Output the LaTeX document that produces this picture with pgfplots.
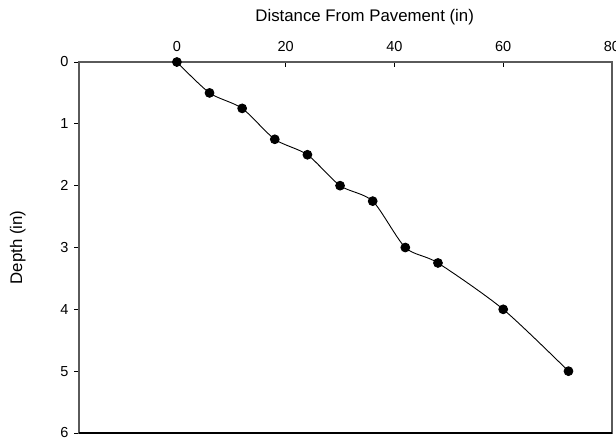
\documentclass[border=0pt]{standalone}
\usepackage{fontspec}
\setmainfont{Liberation Sans}
\usepackage{pgfplots}
\pgfplotsset{compat=1.18}
\definecolor{frame}{HTML}{5A5A5A}

\begin{document}
\begin{tikzpicture}[x=1pt,y=1pt]
\useasboundingbox (0,0) rectangle (616,442);
\begin{axis}[
  at={(79pt,9pt)}, anchor=south west,
  scale only axis, width=533pt, height=371pt,
  xmin=-18, xmax=80, ymin=0, ymax=6,
  y dir=reverse,
  axis line style={draw=frame, line width=1.3pt},
  xtick={0,20,40,60,80}, ytick={0,1,2,3,4,5,6},
  xtick pos=upper, xticklabel pos=upper,
  ytick pos=left,
  tick align=inside,
  major tick length=4.5pt,
  tick style={black, line width=0.9pt},
  y tick style={xshift=-4.5pt},
  /pgf/number format/assume math mode=true,
  ticklabel style={font=\fontsize{14.5}{17}\selectfont},
  xticklabel style={yshift=7pt},
  yticklabel style={xshift=-7pt},
  xlabel={Distance From Pavement (in)},
  ylabel={Depth (in)},
  label style={font=\fontsize{16.8}{19}\selectfont},
  xlabel style={at={(axis description cs:0.536,1)}, anchor=center, yshift=44.5pt},
  ylabel style={at={(axis description cs:-0.115,0.5)}, anchor=center, rotate=0},
  clip=false,
]
\addplot[black, line width=0.9pt, smooth, tension=0.45,
  mark=*, mark size=4.4pt, mark options={fill=black, draw=black}]
  coordinates {
    (0,0) (6,0.5) (12,0.75) (18,1.25) (24,1.5) (30,2)
    (36,2.25) (42,3) (48,3.25) (60,4) (72,5)
  };
\draw[black, line width=1.3pt] (axis cs:-18,6) -- (axis cs:80,6);
\end{axis}
\end{tikzpicture}
\end{document}
